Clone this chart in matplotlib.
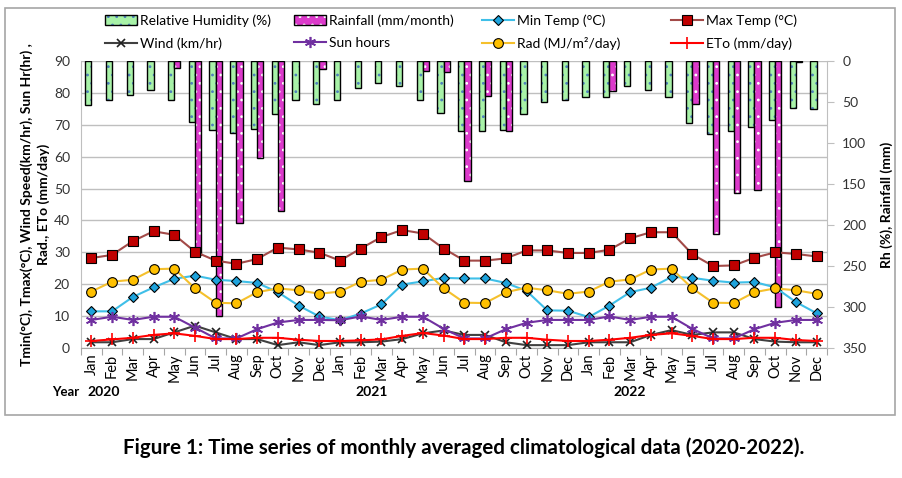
import numpy as np
import matplotlib
matplotlib.use('Agg')
import matplotlib.pyplot as plt
from matplotlib.patches import Patch, Rectangle
from matplotlib.lines import Line2D

plt.rcParams['font.family'] = ['Lato', 'DejaVu Sans']
plt.rcParams['hatch.linewidth'] = 0.8

# monthly data Jan 2020 .. Dec 2022
months = ['Jan', 'Feb', 'Mar', 'Apr', 'May', 'Jun',
          'Jul', 'Aug', 'Sep', 'Oct', 'Nov', 'Dec'] * 3
years = ['2020', '2021', '2022']

rh = [54, 48, 42, 35, 48, 74, 84, 88, 83, 65, 48, 53,
      48, 33, 27, 30, 48, 63, 85, 85, 84, 65, 50, 48,
      44, 44, 30, 35, 44, 76, 89, 85, 81, 72, 57, 58]
rain = [0, 0, 0, 0, 9, 236, 311, 198, 118, 183, 0, 10,
        0, 0, 0, 0, 12, 13, 146, 43, 85, 0, 0, 0,
        0, 37, 0, 0, 0, 53, 211, 161, 157, 300, 1, 0]
tmin = [11.5, 11.5, 16, 19, 21.7, 22.7, 21.4, 21, 20.4, 17.5, 13.3, 9.9,
        8.7, 10.8, 13.7, 19.9, 20.9, 22, 21.8, 21.8, 20.4, 17.9, 11.8, 11.7,
        9.7, 13.3, 17.5, 18.9, 22.3, 22, 21.1, 20.5, 20.7, 19, 14.4, 10.9]
tmax = [28.2, 29.2, 33.5, 36.6, 35.5, 30.2, 27.4, 26.4, 27.9, 31.5, 30.9, 29.9,
        27.4, 31.2, 34.8, 37, 35.9, 31.2, 27.4, 27.4, 28.1, 30.6, 30.6, 29.8,
        29.8, 30.8, 34.4, 36.3, 36.3, 29.4, 25.7, 25.9, 28.3, 30, 29.5, 28.7]
wind = [1.8, 1.8, 2.8, 2.8, 4.9, 7, 4.9, 2.8, 2.8, 0.9, 1.8, 0.9,
        1.8, 1.8, 2, 2.8, 4.6, 5.5, 4.1, 4.1, 1.8, 0.9, 0.9, 0.9,
        1.8, 1.8, 1.8, 4.1, 5.6, 4.1, 4.9, 4.9, 2.8, 2, 1.8, 1.8]
sun = [8.8, 9.8, 8.8, 9.8, 9.8, 6.4, 3, 3, 5.9, 8, 8.8, 8.8,
       8.7, 9.9, 8.8, 9.8, 9.8, 6, 3, 3, 5.9, 7.9, 8.8, 8.8,
       8.8, 9.9, 8.8, 9.8, 9.8, 6, 3, 3, 5.9, 7.9, 8.8, 8.8]
rad = [17.7, 20.8, 21.4, 24.7, 24.9, 18.7, 14.2, 14, 17.5, 18.7, 18.1, 17,
       17.7, 20.8, 21.4, 24.6, 24.9, 18.7, 14.2, 14.1, 17.5, 18.9, 18.1, 17,
       17.7, 20.8, 21.5, 24.6, 24.9, 18.7, 14.2, 14.1, 17.5, 18.7, 18.1, 17]
eto = [2.2, 2.7, 3.2, 4.1, 4.6, 3.8, 2.8, 2.8, 3.2, 3.2, 2.6, 2.2,
       2.2, 2.4, 2.7, 3.8, 4.7, 3.9, 2.8, 2.8, 3.2, 3.2, 2.6, 2.2,
       2.2, 2.6, 3.2, 4.1, 4.6, 3.8, 2.8, 2.8, 3.2, 3.2, 2.5, 2.2]

W, H = 903, 478
fig = plt.figure(figsize=(W / 100, H / 100), dpi=100)

# chart frame
fig.patches.append(Rectangle((5 / W, 1 - 415 / H), 890 / W, 407 / H,
                             transform=fig.transFigure, fill=False,
                             edgecolor='#a6a6a6', lw=1.2))

ax = fig.add_axes([81 / W, 1 - 348 / H, 746 / W, 287 / H])
x = np.arange(len(months))
ax.set_xlim(-0.5, len(months) - 0.5)
ax.set_ylim(0, 90)
ax.set_yticks(np.arange(0, 91, 10))
ax.yaxis.grid(True, color='#bfbfbf', lw=1)
ax.set_axisbelow(True)
for s in ['top', 'right']:
    ax.spines[s].set_visible(False)
ax.spines['left'].set_color('#bfbfbf')
ax.spines['bottom'].set_color('#a6a6a6')
ax.tick_params(axis='y', length=0, labelsize=10, pad=8, labelcolor='#333333')
ax.set_xticks(np.arange(-0.5, len(months), 1))
ax.set_xticklabels([])
ax.set_xticks(x, minor=True)
ax.set_xticklabels(months, minor=True, rotation=90, fontsize=10.5)
ax.tick_params(axis='x', which='major', length=5, color='#a6a6a6')
ax.tick_params(axis='x', which='minor', length=0, pad=4)
ax.set_ylabel('Tmin(°C), Tmax(°C), Wind Speed(km/hr), Sun Hr(hr) ,\nRad., ETo (mm/day)',
              fontsize=10, fontweight='bold', labelpad=3, linespacing=1.35)

# right axis: RH and rainfall bars hanging from the top
ax2 = ax.twinx()
ax2.set_ylim(350, 0)
ax2.set_yticks(np.arange(0, 351, 50))
for s in ['top', 'left', 'bottom']:
    ax2.spines[s].set_visible(False)
ax2.spines['right'].set_color('#bfbfbf')
ax2.tick_params(axis='y', length=5, color='#bfbfbf', labelsize=10, pad=6, labelcolor='#333333')
ax2.set_ylabel('Rh (%), Rainfall (mm)', fontsize=10, fontweight='bold', labelpad=10)

bw = 0.3
ax2.bar(x - bw / 2, rh, width=bw, color='#a8f2a8', edgecolor='#4f81bd',
        hatch='..', linewidth=0)
ax2.bar(x - bw / 2, rh, width=bw, fill=False, edgecolor='black', linewidth=1)
rain = np.array(rain)
xr = x[rain > 0]
ax2.bar(xr + bw / 2, rain[rain > 0], width=bw, color='#dc3acb', edgecolor='white',
        hatch='..', linewidth=0)
ax2.bar(xr + bw / 2, rain[rain > 0], width=bw, fill=False, edgecolor='black', linewidth=1)

# lines on top of the bars
ax3 = ax.twinx()
ax3.set_ylim(0, 90)
ax3.axis('off')
ax3.plot(x, tmin, color='#3fbfe8', lw=1.5, marker='D', ms=5, mfc='#1ea3dc',
         mec='black', mew=0.8)
ax3.plot(x, tmax, color='#a34a48', lw=1.5, marker='s', ms=7, mfc='#c00000',
         mec='black', mew=0.8)
ax3.plot(x, wind, color='#404040', lw=1.5, marker='x', ms=6, mec='#202020', mew=1.2)
ax3.plot(x, sun, color='#7030a0', lw=1.5, marker=(6, 2, 0), ms=8, mec='#7030a0', mew=1.2)
ax3.plot(x, rad, color='#f5c02c', lw=1.5, marker='o', ms=7, mfc='#ffc000',
         mec='black', mew=0.8)
ax3.plot(x, eto, color='#ff0000', lw=1.5, marker='+', ms=8, mec='#ff0000', mew=1.2)

# legend, four columns of two rows
h_rh = (Patch(facecolor='#a8f2a8', edgecolor='#4f81bd', hatch='..', lw=0),
        Patch(fill=False, edgecolor='black', lw=1))
h_rain = (Patch(facecolor='#dc3acb', edgecolor='white', hatch='..', lw=0),
          Patch(fill=False, edgecolor='black', lw=1))
h_min = Line2D([], [], color='#3fbfe8', lw=1.5, marker='D', ms=5, mfc='#1ea3dc', mec='black', mew=0.8)
h_max = Line2D([], [], color='#a34a48', lw=1.5, marker='s', ms=7, mfc='#c00000', mec='black', mew=0.8)
h_wind = Line2D([], [], color='#404040', lw=1.5, marker='x', ms=6, mec='#202020', mew=1.2)
h_sun = Line2D([], [], color='#7030a0', lw=1.5, marker=(6, 2, 0), ms=8, mec='#7030a0', mew=1.2)
h_rad = Line2D([], [], color='#f5c02c', lw=1.5, marker='o', ms=7, mfc='#ffc000', mec='black', mew=0.8)
h_eto = Line2D([], [], color='#ff0000', lw=1.5, marker='+', ms=8, mec='#ff0000', mew=1.2)

cols = [([h_rh, h_wind], ['Relative Humidity (%)', 'Wind (km/hr)'], 105),
        ([h_rain, h_sun], ['Rainfall (mm/month)', 'Sun hours'], 294),
        ([h_min, h_rad], ['Min Temp (°C)', 'Rad (MJ/m²/day)'], 482),
        ([h_max, h_eto], ['Max Temp (°C)', 'ETo (mm/day)'], 671)]
for hs, ls, px in cols:
    lg = fig.legend(hs, ls, loc='upper left', bbox_to_anchor=(px / W, 1 - 14 / H),
                    frameon=False, fontsize=10, handlelength=2.3, handletextpad=0.2,
                    borderpad=0, borderaxespad=0, labelspacing=0.75)

# year row
fig.text(66 / W, 1 - 392 / H, 'Year', fontsize=9.5, fontweight='bold', ha='center', va='center')
for yr, px in zip(years, [104, 372, 630]):
    fig.text(px / W, 1 - 392 / H, yr, fontsize=10, fontweight='bold', ha='center', va='center')

fig.text(464 / W, 1 - 448 / H,
         'Figure 1: Time series of monthly averaged climatological data (2020-2022).',
         fontsize=14.8, fontweight='bold', ha='center', va='center')

fig.savefig('out.png', dpi=100)
